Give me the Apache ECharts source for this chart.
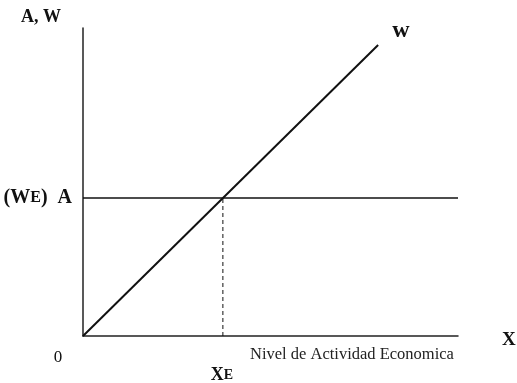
<!DOCTYPE html>
<html>
<head>
<meta charset="utf-8">
<script src="https://cdn.jsdelivr.net/npm/echarts@6/dist/echarts.min.js"></script>
<style>
  html, body { margin: 0; padding: 0; background: #fff; }
  #chart { width: 517px; height: 383px; }
</style>
</head>
<body>
<div id="chart"></div>
<script>
// puntos de la recta W (desde el origen)
var wLine = [[0, 0], [78.7, 94.5]];
// nivel de A (horizontal) = WE
var aLevel = 44.8;
// nivel de equilibrio XE
var xE = 37.3;
var xRange = [0, 100];
var yRange = [0, 100];

var serif = '"Liberation Serif", "DejaVu Serif", serif';
var small = { fontFamily: serif, fontWeight: 'bold', fontSize: 14, color: '#111' };

var chart = echarts.init(document.getElementById('chart'));

chart.setOption({
  animation: false,
  grid: { left: 83, right: 59, top: 28, bottom: 47 },
  xAxis: {
    type: 'value', min: xRange[0], max: xRange[1],
    axisLine: { show: true, lineStyle: { color: '#222', width: 1.5 } },
    axisTick: { show: false }, axisLabel: { show: false }, splitLine: { show: false }
  },
  yAxis: {
    type: 'value', min: yRange[0], max: yRange[1],
    axisLine: { show: true, lineStyle: { color: '#222', width: 1.5 } },
    axisTick: { show: false }, axisLabel: { show: false }, splitLine: { show: false }
  },
  graphic: [
    { type: 'text', left: 21, top: 8,
      style: { text: 'A, W', font: 'bold 18px ' + serif, fill: '#111' } },
    { type: 'text', left: 502, top: 331,
      style: { text: 'X', font: 'bold 19px ' + serif, fill: '#111' } },
    { type: 'text', left: 250, top: 346,
      style: { text: 'Nivel de Actividad Economica', font: '16.5px ' + serif, fill: '#222' } }
  ],
  series: [
    {
      type: 'line', symbolSize: 0, lineStyle: { color: '#111', width: 2 },
      data: [
        { value: wLine[0], label: { show: true, position: 'bottom', formatter: '0', offset: [-25, 8],
          fontFamily: serif, fontSize: 17, color: '#111' } },
        { value: wLine[1], label: { show: true, position: 'right', formatter: 'w', offset: [9, -14],
          fontFamily: serif, fontWeight: 'bold', fontSize: 24, color: '#111' } }
      ]
    },
    {
      type: 'line', symbolSize: 0, lineStyle: { color: '#111', width: 1.5 },
      data: [
        { value: [xRange[0], aLevel], label: { show: true, position: 'left', formatter: '(W{e|E})  A',
          distance: 11, fontFamily: serif, fontWeight: 'bold', fontSize: 20, color: '#111',
          rich: { e: { fontFamily: serif, fontWeight: 'bold', fontSize: 16, color: '#111' } } } },
        { value: [xRange[1], aLevel] }
      ]
    },
    {
      type: 'line', symbolSize: 0, lineStyle: { color: '#111', width: 1, type: [4, 3] },
      data: [
        { value: [xE, 0], label: { show: true, position: 'bottom', formatter: 'X{s|E}', offset: [-1, 25],
          fontFamily: serif, fontWeight: 'bold', fontSize: 18, color: '#111', rich: { s: small } } },
        { value: [xE, aLevel] }
      ]
    }
  ]
});
</script>
</body>
</html>
